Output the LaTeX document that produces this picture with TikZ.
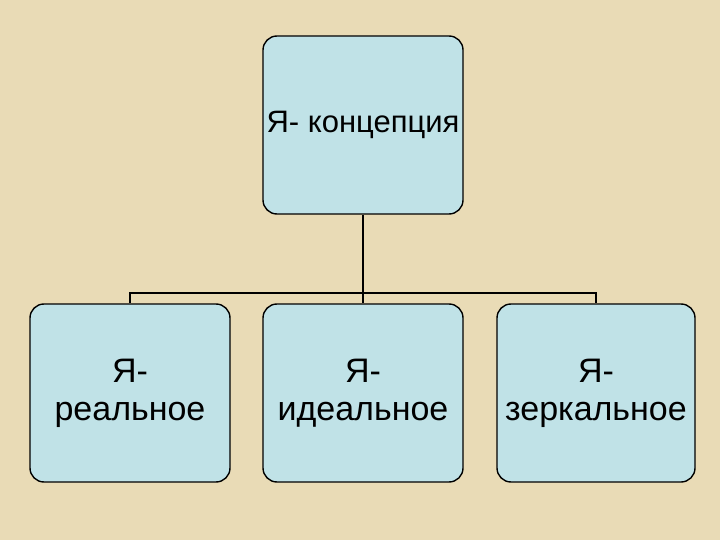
\documentclass[tikz,border=0pt]{standalone}
\usepackage{fontspec}
\setmainfont{Liberation Sans}
\definecolor{bg}{RGB}{233,219,182}
\definecolor{boxfill}{RGB}{192,226,231}
\begin{document}
\begin{tikzpicture}[x=1pt,y=-1pt,
  box/.style={draw=black,line width=1.4pt,fill=boxfill,rounded corners=14pt,minimum width=200pt,minimum height=178pt,inner sep=0pt,align=center},
  conn/.style={draw=black,line width=1.6pt}]
\fill[bg] (0,0) rectangle (720,540);
\useasboundingbox (0,0) rectangle (720,540);
\node[box,font=\fontsize{31}{36}\selectfont] (top) at (363,125) {Я- концепция};
\node[box,font=\fontsize{34}{38}\selectfont] (b1) at (130,393) {Я-\\реальное};
\node[box,font=\fontsize{34}{38}\selectfont] (b2) at (363,393) {Я-\\идеальное};
\node[box,minimum width=198pt,font=\fontsize{34}{38}\selectfont] (b3) at (596,393) {Я-\\зеркальное};
\coordinate (j) at (363,293);
\draw[conn] (top.south) -- (j);
\draw[conn] (b1.north) |- (j) -| (b3.north);
\draw[conn] (j) -- (b2.north);
\end{tikzpicture}
\end{document}
